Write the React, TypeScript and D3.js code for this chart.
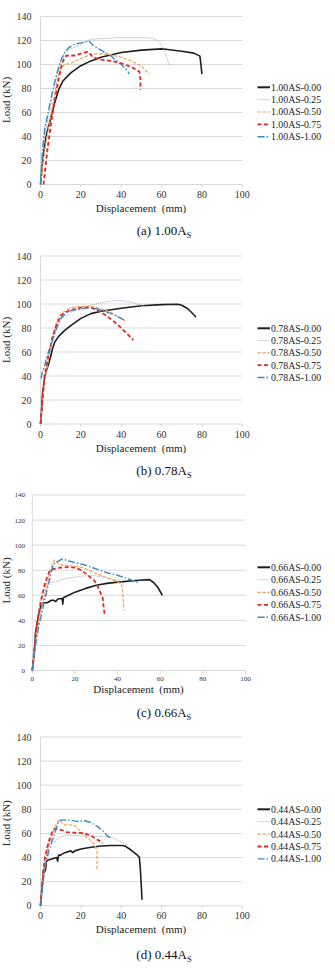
import React from "react";
import * as d3 from "d3";

type Pt = [number, number];

// Load–displacement curves, (displacement mm, load kN)
// (a) 1.00As
const a000: Pt[] = [[0,0],[1,18],[2,32],[3,42],[5,55],[7,68],[9,79],[11,86],[15,93],[20,99],[25,103],[30,106],[40,110],[50,112],[60,113],[63,112.5],[70,111],[76,109.5],[79,107],[79.5,100],[80,92]];
const a025: Pt[] = [[0,0],[1,25],[2,40],[4,58],[6,75],[8,90],[10,103],[12,110],[15,113],[20,117],[25,121],[30,121.5],[40,122.5],[50,122.5],[55,122],[58,120],[60,116],[62,108],[64,99]];
const a050: Pt[] = [[0,0],[1,15],[2,28],[4,48],[6,66],[8,84],[10,97],[12,100],[15,101],[20,105],[25,108.5],[30,109],[35,108],[40,106],[45,103],[50,98.5],[54,92]];
const a075: Pt[] = [[1.5,0],[2.5,15],[3.5,30],[5,48],[7,70],[9,88],[10.5,100],[12,106],[13,107.5],[17,107.5],[20,109],[23,110.5],[24,110],[26,106],[30,104],[35,103],[40,101],[45,98],[49,94],[49.5,88],[49.5,79]];
const a100: Pt[] = [[0,0],[0.5,15],[1,30],[2,45],[4,62],[6,78],[8,92],[10,103],[12,110],[14,114],[17,117],[20,118],[24,119.5],[26,116],[30,112],[35,107],[40,100],[43,95],[44,92]];

// (b) 0.78As
const b000: Pt[] = [[0,0],[0.5,10],[1,25],[2,38],[3,45],[4,50],[5,56],[6,63],[7,68],[9,73],[12,78],[15,82],[20,88],[25,92],[30,94],[40,96.5],[50,98.5],[60,99.5],[68,99.8],[70,99],[73,96],[76,91],[77,89]];
const b025: Pt[] = [[0,0],[1,20],[2,35],[4,55],[6,70],[8,80],[10,87],[15,93],[20,97],[25,99],[30,101],[35,102.5],[40,103],[45,101.5],[50,99],[52,98]];
const b050: Pt[] = [[0,0],[1,20],[2,35],[4,55],[6,72],[8,85],[10,92],[15,97],[20,98],[25,98],[30,96],[35,93],[40,88],[42,86]];
const b075: Pt[] = [[0,0],[1,20],[2,40],[4,58],[6,73],[8,83],[10,90],[12,93],[15,95],[20,97],[25,97],[28,95],[32,91],[36,86],[40,80],[43,75],[46,70]];
const b100: Pt[] = [[0.3,38],[1,44],[2,48],[3,55],[5,65],[8,80],[10,88],[13,93],[16,95],[20,96],[25,97],[30,95],[35,92],[40,88],[42,86]];

// (c) 0.66As
const c000: Pt[] = [[0,0],[1,15],[1.5,30],[2,35],[3,45],[4,51],[5,54],[7,54],[9,56],[10,56],[11,55],[12,57],[14,57.5],[14.3,53],[14.6,58],[17,60],[20,62.5],[25,65.5],[30,68],[35,69.5],[40,70.5],[50,72],[55,72.5],[57,70],[59,66],[61,60]];
const c025: Pt[] = [[0,0],[1,20],[2,38],[4,58],[6,68],[7,71],[8,70],[9,70],[12,71.5],[16,73.5],[20,74.5],[27,76],[32,75],[36,73.5],[40,72],[42,71]];
const c050: Pt[] = [[0,0],[1,15],[2,30],[4,48],[6,62],[8,76],[9.5,86],[10.5,88],[12,86],[14,84],[18,83.5],[24,82],[29,78],[35,74],[40,71],[42,68],[42.5,60],[43,48]];
const c075: Pt[] = [[0,0],[1,18],[2,35],[4,55],[6,70],[8,79],[10,81],[13,82],[17,82.5],[20,82],[23,80],[26,76],[29,72],[31,66],[33,58],[33.5,50],[34,44]];
const c100: Pt[] = [[0,0],[1,15],[3,35],[5,50],[7,65],[8,72],[9,80],[10,85],[12,87],[14,89],[16,88],[20,86],[25,84],[30,81],[35,78],[40,76],[45,73],[50,70]];

// (d) 0.44As
const d000: Pt[] = [[0,0],[1,20],[1.5,30],[2,28],[2.5,30],[3,37],[4,38],[6,39],[8,40],[8.5,37],[9,42],[10,42],[12,44],[15,45.5],[16,44],[17,45.5],[20,47],[25,48.5],[30,49.5],[35,50],[40,50],[42,49.5],[45,46],[48,42],[49,40],[49.5,30],[50,15],[50.3,5]];
const d025: Pt[] = [[0,0],[1,20],[2,38],[3,48],[4,52],[5,55],[6,54],[7,52],[8,55],[10,57],[13,58.5],[20,58],[30,57.5],[35,56.5],[40,53],[43,50]];
const d050: Pt[] = [[0,0],[1,18],[2,33],[4,50],[6,60],[7,65],[9,71],[10,70],[12,67],[15,67],[17,66.5],[19,63],[22,58],[25,54],[27,50],[28,45],[28,30]];
const d075: Pt[] = [[0,0],[1,20],[2,38],[4,53],[6,62],[7,64],[10,63],[13,61],[18,60.5],[22,60],[25,58],[28,55],[31,52]];
const d100: Pt[] = [[0,0],[1,15],[2,30],[4,45],[6,55],[8,65],[9,70],[10,71],[15,71],[18,70],[22,70.5],[25,69],[28,66],[31,62],[33,58],[35,56]];

const ratios = ["1.00", "0.78", "0.66", "0.44"];
const suffixes = ["0.00", "0.25", "0.50", "0.75", "1.00"];
const captionLetters = ["a", "b", "c", "d"];
const xTicks = [0, 20, 40, 60, 80, 100];
const yTicks = [0, 20, 40, 60, 80, 100, 120, 140];

const panelData: Pt[][][] = [
  [a000, a025, a050, a075, a100],
  [b000, b025, b050, b075, b100],
  [c000, c025, c050, c075, c100],
  [d000, d025, d050, d075, d100],
];

// line styles per series (by CFRP ratio suffix)
const styles = [
  { stroke: "#1e1e1e", width: 1.6, dash: "" },
  { stroke: "#a6a6c2", width: 1, dash: "1,1" },
  { stroke: "#f4a458", width: 1.2, dash: "3.5,1.5" },
  { stroke: "#e3282a", width: 1.8, dash: "4,2.5" },
  { stroke: "#3a8ac6", width: 1.4, dash: "7,2,1.5,2" },
];

// panel frames
const frames = [
  { xL: 40.5, xR: 242.3, yB: 184.5, yT: 16.5, tickFs: 10, yLabR: 31.5, xLabDy: 13.5, xTitleX: 141, xTitleY: 211.5, yTitleY: 100, capY: 235, legY: 87.3, legDy: 12.35 },
  { xL: 40.5, xR: 242.3, yB: 424, yT: 256, tickFs: 10, yLabR: 31.5, xLabDy: 13.5, xTitleX: 141, xTitleY: 451.5, yTitleY: 340, capY: 475, legY: 328.3, legDy: 12.3 },
  { xL: 32.3, xR: 245.5, yB: 670.5, yT: 495, tickFs: 7, yLabR: 25, xLabDy: 10, xTitleX: 138.5, xTitleY: 692.5, yTitleY: 580.5, capY: 717, legY: 567.3, legDy: 12.5 },
  { xL: 40.5, xR: 242.3, yB: 905.7, yT: 737, tickFs: 10, yLabR: 31.5, xLabDy: 13.5, xTitleX: 141, xTitleY: 932.5, yTitleY: 823.3, capY: 959, legY: 809.3, legDy: 12.4 },
];

const FONT = "'Liberation Serif', 'Times New Roman', serif";

function Panel({ idx }: { idx: number }) {
  const f = frames[idx];
  const x = d3.scaleLinear().domain([0, 100]).range([f.xL, f.xR]);
  const y = d3.scaleLinear().domain([0, 140]).range([f.yB, f.yT]);
  const line = d3.line<Pt>().x((d) => x(d[0])).y((d) => y(d[1]));
  const series = panelData[idx];
  const ratio = ratios[idx];
  return (
    <g>
      {yTicks.map((t) => (
        <line key={"g" + t} x1={f.xL} x2={f.xR} y1={y(t)} y2={y(t)} stroke="#d9d9d9" strokeWidth={1} />
      ))}
      <line x1={f.xL} x2={f.xL} y1={f.yT} y2={f.yB} stroke="#d9d9d9" strokeWidth={1} />
      {xTicks.map((t) => (
        <line key={"xt" + t} x1={x(t)} x2={x(t)} y1={f.yB} y2={f.yB + 3} stroke="#d0d0d0" strokeWidth={1} />
      ))}
      {yTicks.map((t) => (
        <text key={"yl" + t} x={f.yLabR} y={y(t)} dy="0.35em" textAnchor="end" fontSize={f.tickFs} fontFamily={FONT} fill="#333">
          {t}
        </text>
      ))}
      {xTicks.map((t) => (
        <text key={"xl" + t} x={x(t)} y={f.yB + f.xLabDy} textAnchor="middle" fontSize={f.tickFs} fontFamily={FONT} fill="#333">
          {t}
        </text>
      ))}
      <text x={f.xTitleX} y={f.xTitleY} textAnchor="middle" fontSize={11} fontFamily={FONT} fill="#222" style={{ whiteSpace: "pre" }}>
        {"Displacement  (mm)"}
      </text>
      <text transform={`translate(9.5,${f.yTitleY}) rotate(-90)`} textAnchor="middle" fontSize={11} fontFamily={FONT} fill="#222">
        Load (kN)
      </text>
      {series.map((s, i) => (
        <path key={"s" + i} d={line(s) || ""} fill="none" stroke={styles[i].stroke} strokeWidth={styles[i].width}
          strokeDasharray={styles[i].dash || undefined} strokeLinejoin="round" />
      ))}
      {suffixes.map((sfx, i) => {
        const ly = f.legY + i * f.legDy;
        return (
          <g key={"lg" + i}>
            <line x1={257.5} x2={270} y1={ly} y2={ly} stroke={styles[i].stroke} strokeWidth={i === 0 ? 2 : styles[i].width}
              strokeDasharray={styles[i].dash || undefined} />
            <text x={271} y={ly} dy="0.35em" fontSize={9.8} fontFamily={FONT} fill="#222">
              {`${ratio}AS-${sfx}`}
            </text>
          </g>
        );
      })}
      <text x={164} y={f.capY} textAnchor="middle" fontSize={13} fontFamily={FONT} fill="#111">
        {`(${captionLetters[idx]}) ${ratio}A`}
        <tspan fontSize={8.5} dy={2.5}>S</tspan>
      </text>
    </g>
  );
}

export default function App() {
  return (
    <svg width={335} height={973} viewBox="0 0 335 973" style={{ position: "absolute", left: 0, top: 0, background: "#fff" }}>
      <rect width={335} height={973} fill="#fff" />
      {[0, 1, 2, 3].map((i) => (
        <Panel key={i} idx={i} />
      ))}
    </svg>
  );
}
